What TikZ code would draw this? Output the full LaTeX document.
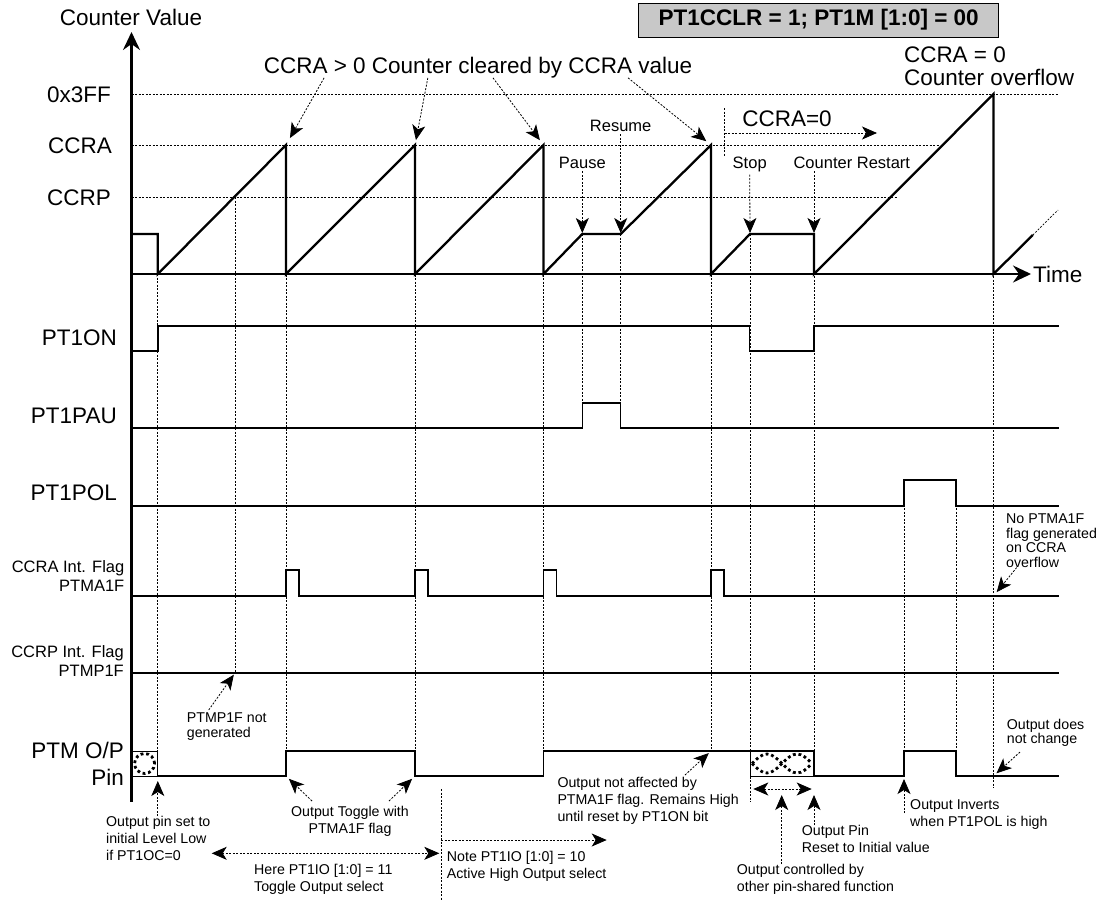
\documentclass[tikz,border=0pt]{standalone}
\usepackage{fontspec}
\setmainfont{Liberation Sans}
\usetikzlibrary{arrows.meta,calc}
\definecolor{ink}{HTML}{000000}
\definecolor{boxgray}{HTML}{C8C8C8}
\newcommand{\fbig}{\fontsize{22.5}{23}\selectfont}
\newcommand{\fmid}{\fontsize{16.5}{19.5}\selectfont}
\newcommand{\fsmall}{\fontsize{14.2}{17.2}\selectfont}
\newcommand{\ftight}{\fontsize{14.2}{14.4}\selectfont}
\tikzset{
 every node/.append style={text=ink,inner sep=0pt},
 big/.style={font=\fbig},
 sig/.style={font=\fbig,anchor=base east},
 flag/.style={font=\fmid,align=right,anchor=east},
 event/.style={font=\fmid,anchor=base},
 note/.style={font=\fsmall,align=left,anchor=north west},
 tightnote/.style={font=\ftight,align=left,anchor=north west},
 wave/.style={draw=ink,line width=1.4pt},
 strongwave/.style={draw=ink,line width=1.9pt},
 saw/.style={draw=ink,line width=2.3pt},
 guide/.style={draw=ink,line width=.7pt,dash pattern=on 2pt off 1.5pt},
 pointer/.style={guide,line width=.8pt,-{Stealth[length=15pt,width=13pt,inset=4pt]}},
 twoway/.style={guide,line width=.8pt,{Stealth[length=15pt,width=13pt,inset=4pt]}-{Stealth[length=15pt,width=13pt,inset=4pt]}},
 axisline/.style={draw=ink,line width=2.2pt,-{Stealth[length=18pt,width=17pt,inset=6pt]}},
 dontcare/.style={draw=ink,line width=2.8pt,dash pattern=on 2.8pt off 2.8pt},
}

\begin{document}
\begin{tikzpicture}[x=1pt,y=-1pt]

\useasboundingbox (0,0) rectangle (1102,900);
\node[draw=ink,fill=boxgray,line width=1pt,minimum width=360pt,minimum height=34pt,font=\fbig\bfseries] (mode) at (818.7,20) {PT1CCLR = 1; PT1M [1:0] = 00};

% counter levels and event guides
\draw[guide] (131.5,94) -- (1058,94);
\draw[guide] (131.5,145) -- (939.6,145);
\draw[guide] (131.5,197) -- (896.6,197);
\foreach \x/\a/\b in {157.8/274/751, 235/197/673, 286/145/751, 415/145/751, 543.5/145/751, 582.3/234/403, 620.7/234/403, 711/145/751, 750/234/801.7, 814/234/776, 904/480/751, 956/480/751, 993.5/94/788}
  \draw[guide] (\x,\a) -- (\x,\b);

\node[big,anchor=base] (cvalue) at (131,25) {Counter Value};
\node[sig] (l3ff) at (111,102) {0x3FF};
\node[sig] (lccra) at (112,153) {CCRA};
\node[sig] (lccrp) at (111,205) {CCRP};
\node[big,anchor=base west] (ltime) at (1033,282) {Time};
\draw[axisline] (131.5,801.7) -- (131.5,32);
\draw[axisline] (131.5,274) -- (1031,274);

\draw[saw] (131.5,234) -- (157.8,234) -- (157.8,274) -- (286,145) -- (286,274) -- (415,145) -- (415,274) -- (543.5,145) -- (543.5,274) -- (582.3,234) -- (620.7,234) -- (711,145) -- (711,274) -- (750,234) -- (814,234) -- (814,274) -- (993.5,94) -- (993.5,274) -- (1032.8,235);
\draw[guide] (1032.8,235) -- (1058,210);

\coordinate (pk1) at (286,145);
\coordinate (pk2) at (415,145);
\coordinate (pk3) at (543.5,145);
\coordinate (pk4) at (711,145);
\node[big,anchor=base] (cleared) at (478,73) {CCRA > 0 Counter cleared by CCRA value};
\draw[pointer,shorten >=8pt] ($(cleared.south west)!.141!(cleared.south east)$) -- (pk1);
\draw[pointer,shorten >=5pt] ($(cleared.south west)!.383!(cleared.south east)$) -- (pk2);
\draw[pointer,shorten >=6pt] ($(cleared.south west)!.535!(cleared.south east)$) -- (pk3);
\draw[pointer,shorten >=6pt] ($(cleared.south west)!.85!(cleared.south east)$) -- (pk4);

\coordinate (ps) at (582.3,234);
\coordinate (rs) at (620.7,234);
\coordinate (sp) at (750,234);
\coordinate (rt) at (814,234);
\node[event] (pause) at (582.3,168) {Pause};
\node[event] (resume) at (620.7,131) {Resume};
\node[event] (stop) at (749.7,168) {Stop};
\node[event] (restart) at (851.8,168) {Counter Restart};
\draw[pointer,shorten >=1pt] ([yshift=-3pt]pause.south) -- (ps);
\draw[pointer,shorten >=1pt] ([yshift=-3pt]resume.south) -- (rs);
\draw[pointer,shorten >=1pt] ([yshift=-3pt]stop.south) -- (sp);
\draw[pointer,shorten >=1pt] ([yshift=-3pt]restart.south -| rt) -- (rt);

\coordinate (zs) at (724.6,133);
\coordinate (ze) at (877,133);
\node[big,anchor=base] (zero) at (787,126) {CCRA=0};
\draw[guide] (724.6,108) -- (724.6,157);
\draw[pointer] (zs) -- (ze);
\node[big,align=left,anchor=north west] (overflow) at (903.8,47) {CCRA = 0\\Counter overflow};

% control bits and flags
\node[sig] (lon) at (117,345) {PT1ON};
\node[sig] (lpau) at (117,423) {PT1PAU};
\node[sig] (lpol) at (117,500) {PT1POL};
\node[flag] (lafl) at (124.5,576) {CCRA Int. Flag\\PTMA1F};
\node[flag] (lpfl) at (124,661) {CCRP Int. Flag\\PTMP1F};
\node[sig] (lptm) at (124,758) {PTM O/P};
\node[sig] (lpin) at (124,785) {Pin};

\draw[wave] (131.5,351) -- (157.8,351) -- (157.8,326) -- (749.7,326) -- (749.7,351) -- (814,351) -- (814,326) -- (1059,326);
\draw[wave] (131.5,428) -- (582.3,428) -- (582.3,403) -- (620.7,403) -- (620.7,428) -- (1059,428);
\draw[wave] (131.5,506) -- (904,506) -- (904,480) -- (956,480) -- (956,506) -- (1059,506);
\draw[strongwave] (131.5,596) foreach \x in {286,415,543.5,711} { -- (\x,596) -- (\x,570) -- (\x+13,570) -- (\x+13,596) } -- (1059,596);
\draw[wave] (131.5,673) -- (1059,673);
\draw[strongwave] (157.8,776) -- (286,776) -- (286,751) -- (415,751) -- (415,776) -- (543.5,776) -- (543.5,751) -- (814,751) -- (814,776) -- (904,776) -- (904,751) -- (956,751) -- (956,776) -- (1059,776);

\draw[line width=.8pt] (131.5,751) rectangle (157.8,776);
\draw[dontcare] (144.6,763.5) circle (10pt);
\draw[line width=.8pt] (750,751) rectangle (814,776);
\draw[dontcare] (752,763.5) sin (767,754) cos (782,763.5) sin (797,773) cos (812,763.5);
\draw[dontcare] (752,763.5) sin (767,773) cos (782,763.5) sin (797,754) cos (812,763.5);

\node[tightnote] (noflag) at (1006,514) {No PTMA1F\\flag generated\\on CCRA\\overflow};
\coordinate (of) at (993.5,596);
\draw[pointer,shorten >=5pt] ($(noflag.south west)+(10.7,0)$) -- (of);

\node[tightnote] (notgen) at (186.7,713) {PTMP1F not\\generated};
\coordinate (cp) at (235,673);
\draw[pointer,shorten >=2pt] ($(notgen.north west)+(22,-3)$) -- (cp);

% output pin notes
\coordinate (c1) at (157.8,776);
\coordinate (up1) at (286,776);
\coordinate (dn1) at (415,776);
\coordinate (hi4) at (711,751);
\node[note] (pinset) at (106,816) {Output pin set to\\initial Level Low\\if PT1OC=0};
\draw[pointer,shorten >=5pt] (pinset.north -| c1) -- (c1);
\node[font=\fsmall,align=center,anchor=north] (toggle) at (350,806) {Output Toggle with\\PTMA1F flag};
\draw[pointer,shorten >=4pt] ($(toggle.north west)+(21,-5)$) -- (up1);
\draw[pointer,shorten >=4pt] ($(toggle.north east)+(-20,-5)$) -- (dn1);

\coordinate (t11a) at (211.7,853.3);
\coordinate (t11b) at (439.3,853.3);
\draw[twoway] (t11a) -- (t11b);
\node[note] (here11) at (254,864) {Here PT1IO [1:0] = 11\\Toggle Output select};

\coordinate (n10a) at (441,840);
\coordinate (n10b) at (606.7,840);
\draw[guide] (441,789) -- (441,900);
\draw[pointer] (n10a) -- (n10b);
\node[note] (note10) at (446.7,851) {Note PT1IO [1:0] = 10\\Active High Output select};

\node[note] (notaff) at (557.3,777) {Output not affected by\\PTMA1F flag. Remains High\\until reset by PT1ON bit};
\draw[pointer,shorten >=3pt] ($(notaff.north west)+(127.7,-2)$) -- (hi4);

\coordinate (dca) at (753.3,789);
\coordinate (dcb) at (811.7,789);
\coordinate (cm) at (781.7,795);
\coordinate (rp) at (814,795);
\draw[twoway] (dca) -- (dcb);
\node[note] (ctrl) at (736.7,864) {Output controlled by\\other pin-shared function};
\draw[pointer] (ctrl.north -| cm) -- (cm);
\node[note] (reset) at (801.7,825) {Output Pin\\Reset to Initial value};
\draw[pointer] (reset.north -| rp) -- (rp);

\coordinate (iv) at (904,776);
\node[note] (invert) at (910,799) {Output Inverts\\when PT1POL is high};
\draw[pointer,shorten >=3pt] (904,813) -- (iv);

\coordinate (nc) at (993.5,776);
\node[tightnote] (nochange) at (1006.7,719) {Output does\\not change};
\draw[pointer,shorten >=4pt] ($(nochange.south west)+(13.3,5)$) -- (nc);

\end{tikzpicture}
\end{document}
